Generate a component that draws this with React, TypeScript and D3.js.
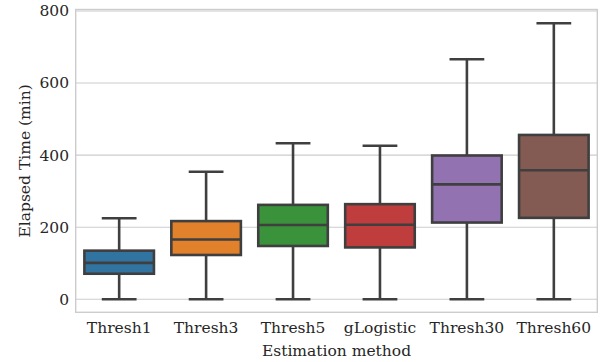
import * as d3 from 'd3';
import React from 'react';

// Box statistics (minutes)
const categories = ['Thresh1', 'Thresh3', 'Thresh5', 'gLogistic', 'Thresh30', 'Thresh60'];
const whiskerLow = [0, 0, 0, 0, 0, 0];
const q1 = [71, 123, 148, 144, 213, 226];
const median = [101, 166, 206, 207, 319, 358];
const q3 = [135, 217, 262, 264, 399, 456];
const whiskerHigh = [225, 354, 433, 426, 666, 766];
const colors = ['#3274a1', '#e1812c', '#3a923a', '#c03d3e', '#9372b2', '#845b53'];
const yTicks = [0, 200, 400, 600, 800];

function App() {
    const width = 600;
    const height = 362;
    const left = 75.7, right = 597.3, top = 9.5, bottom = 312.3;
    const font = 'DejaVu Serif, serif';
    const fontSize = 15.5;
    const textColor = '#262626';
    const lineColor = '#3f3f3f';

    const x = d3.scaleBand<string>().domain(categories).range([left, right]).padding(0);
    const y = d3.scaleLinear().domain([-36, 804]).range([bottom, top]);

    const boxW = x.bandwidth() * 0.8;
    const capW = boxW / 2;

    return (
        <svg width={width} height={height} style={{ position: 'absolute', left: 0, top: 0, background: 'white' }}>
            {/* horizontal grid */}
            {yTicks.map((t) => (
                <line key={t} x1={left} x2={right} y1={y(t)} y2={y(t)} stroke="#cccccc" strokeWidth={1.1} />
            ))}
            {/* frame */}
            <rect x={left} y={top} width={right - left} height={bottom - top} fill="none" stroke="#cccccc" strokeWidth={1.4} />

            {categories.map((c, i) => {
                const cx = (x(c) as number) + x.bandwidth() / 2;
                return (
                    <g key={c}>
                        <line x1={cx} x2={cx} y1={y(q3[i])} y2={y(whiskerHigh[i])} stroke={lineColor} strokeWidth={2.6} />
                        <line x1={cx} x2={cx} y1={y(q1[i])} y2={y(whiskerLow[i])} stroke={lineColor} strokeWidth={2.6} />
                        <line x1={cx - capW / 2} x2={cx + capW / 2} y1={y(whiskerHigh[i])} y2={y(whiskerHigh[i])} stroke={lineColor} strokeWidth={2.6} />
                        <line x1={cx - capW / 2} x2={cx + capW / 2} y1={y(whiskerLow[i])} y2={y(whiskerLow[i])} stroke={lineColor} strokeWidth={2.6} />
                        <rect x={cx - boxW / 2} y={y(q3[i])} width={boxW} height={y(q1[i]) - y(q3[i])}
                            fill={colors[i]} stroke={lineColor} strokeWidth={2.6} />
                        <line x1={cx - boxW / 2} x2={cx + boxW / 2} y1={y(median[i])} y2={y(median[i])} stroke={lineColor} strokeWidth={2.6} />
                        <text x={cx} y={333} textAnchor="middle" fontFamily={font} fontSize={fontSize} fill={textColor}>{c}</text>
                    </g>
                );
            })}

            {/* y tick labels */}
            {yTicks.map((t) => (
                <text key={t} x={69} y={y(t)} dy="0.35em" textAnchor="end" fontFamily={font} fontSize={fontSize} fill={textColor}>{t}</text>
            ))}

            <text x={(left + right) / 2} y={356} textAnchor="middle" fontFamily={font} fontSize={fontSize} fill={textColor}>Estimation method</text>
            <text transform={`translate(30,${(top + bottom) / 2}) rotate(-90)`} textAnchor="middle" fontFamily={font} fontSize={fontSize} fill={textColor}>Elapsed Time (min)</text>
        </svg>
    );
}

export default App;
